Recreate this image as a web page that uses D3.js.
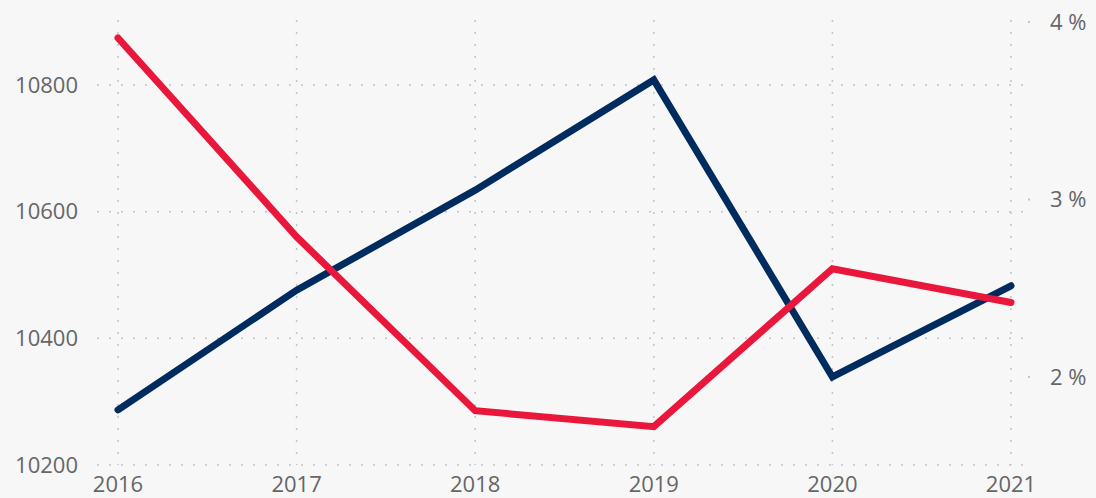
<!DOCTYPE html>
<html>
<head>
<meta charset="utf-8">
<script src="https://cdn.jsdelivr.net/npm/d3@7"></script>
<style>
  body { margin: 0; background: #f7f7f7; }
  svg { display: block; }
  .lbl { font-family: "Open Sans", sans-serif; font-size: 22px; fill: #666; }
</style>
</head>
<body>
<div id="chart"></div>
<script>
// data
const years = ["2016", "2017", "2018", "2019", "2020", "2021"];
const valueSeries = [10287, 10476, 10634, 10808, 10339, 10483];   // navy, left axis
const rateSeries = [3.91, 2.79, 1.81, 1.72, 2.61, 2.42];          // red, right axis (%)
const leftTicks = [10200, 10400, 10600, 10800];
const rightTicks = [2, 3, 4];

const W = 1096, H = 498;

const svg = d3.select("#chart").append("svg")
  .attr("width", W)
  .attr("height", H)
  .style("background", "#f7f7f7");

const x = d3.scalePoint().domain(years).range([118, 1011]);
const yL = d3.scaleLinear().domain([10200, 10800]).range([465, 85]);
const yR = d3.scaleLinear().domain([2, 4]).range([377, 22]);

const gridTop = 20, gridLeft = 97, gridRight = 1027;

// horizontal grid (left axis)
svg.append("g")
  .selectAll("line")
  .data(leftTicks)
  .join("line")
  .attr("x1", gridLeft)
  .attr("x2", gridRight)
  .attr("y1", d => yL(d))
  .attr("y2", d => yL(d))
  .attr("stroke", "#c4c4c4")
  .attr("stroke-width", 1.5)
  .attr("stroke-dasharray", "2,10");

// vertical grid
svg.append("g")
  .selectAll("line")
  .data(years)
  .join("line")
  .attr("x1", d => x(d))
  .attr("x2", d => x(d))
  .attr("y1", gridTop)
  .attr("y2", yL(10200))
  .attr("stroke", "#c4c4c4")
  .attr("stroke-width", 1.5)
  .attr("stroke-dasharray", "2,10");

// small tick dots on right axis
svg.append("g")
  .selectAll("rect")
  .data(rightTicks)
  .join("rect")
  .attr("x", 1028)
  .attr("y", d => yR(d) - 1)
  .attr("width", 2)
  .attr("height", 2)
  .attr("fill", "#c4c4c4");

// left axis labels
svg.append("g")
  .selectAll("text")
  .data(leftTicks)
  .join("text")
  .attr("class", "lbl")
  .attr("x", 78)
  .attr("y", d => yL(d))
  .attr("dy", "0.35em")
  .attr("text-anchor", "end")
  .text(d => d);

// right axis labels
svg.append("g")
  .selectAll("text")
  .data(rightTicks)
  .join("text")
  .attr("class", "lbl")
  .attr("x", 1050)
  .attr("y", d => yR(d))
  .attr("dy", "0.35em")
  .attr("text-anchor", "start")
  .text(d => d + " %");

// x labels
svg.append("g")
  .selectAll("text")
  .data(years)
  .join("text")
  .attr("class", "lbl")
  .attr("x", d => x(d))
  .attr("y", 492)
  .attr("text-anchor", "middle")
  .text(d => d);

// lines
const lineL = d3.line()
  .x((d, i) => x(years[i]))
  .y(d => yL(d));

const lineR = d3.line()
  .x((d, i) => x(years[i]))
  .y(d => yR(d));

svg.append("path")
  .datum(valueSeries)
  .attr("d", lineL)
  .attr("fill", "none")
  .attr("stroke", "#002b5e")
  .attr("stroke-width", 7)
  .attr("stroke-linejoin", "miter")
  .attr("stroke-linecap", "round");

svg.append("path")
  .datum(rateSeries)
  .attr("d", lineR)
  .attr("fill", "none")
  .attr("stroke", "#e8173b")
  .attr("stroke-width", 7)
  .attr("stroke-linejoin", "miter")
  .attr("stroke-linecap", "round");
</script>
</body>
</html>
